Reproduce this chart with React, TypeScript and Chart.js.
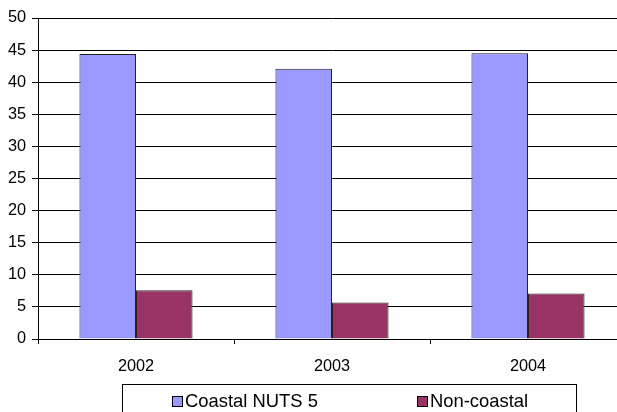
import React, { useEffect, useRef } from "react";
import { Chart, registerables } from "chart.js";

Chart.register(...registerables);

const categories = ["2002", "2003", "2004"];
const coastalValues = [44.4, 42.1, 44.5];
const nonCoastalValues = [7.6, 5.7, 7.1];
const seriesNames = ["Coastal NUTS 5", "Non-coastal"];
const seriesColors = ["#9999FF", "#993366"];
const yMin = 0;
const yMax = 50;
const yStep = 5;

const FONT = 'Arial, "Liberation Sans", sans-serif';

export default function App() {
  const ref = useRef<HTMLCanvasElement | null>(null);

  useEffect(() => {
    if (!ref.current) return;
    const chart = new Chart(ref.current, {
      type: "bar",
      data: {
        labels: categories,
        datasets: [
          {
            label: seriesNames[0],
            data: coastalValues,
            backgroundColor: seriesColors[0],
            borderColor: "#222",
            borderWidth: 1,
            categoryPercentage: 0.577,
            barPercentage: 1,
          },
          {
            label: seriesNames[1],
            data: nonCoastalValues,
            backgroundColor: seriesColors[1],
            borderColor: "#222",
            borderWidth: 1,
            categoryPercentage: 0.577,
            barPercentage: 1,
          },
        ],
      },
      options: {
        responsive: false,
        animation: false,
        devicePixelRatio: 1,
        layout: { padding: { top: 18, left: 0, right: 14, bottom: 33 } },
        plugins: {
          legend: { display: false },
          tooltip: { enabled: false },
        },
        scales: {
          x: {
            offset: true,
            grid: {
              display: true,
              drawOnChartArea: false,
              drawTicks: true,
              tickLength: 5,
              color: "#000",
              offset: true,
            },
            border: { display: true, color: "#000", width: 1 },
            ticks: {
              color: "#000",
              font: { family: FONT, size: 16.3 },
              padding: 13,
              maxRotation: 0,
            },
            afterFit: (scale: any) => {
              scale.height = 40;
            },
          },
          y: {
            min: yMin,
            max: yMax,
            grid: {
              color: "#000",
              lineWidth: 1,
              drawTicks: true,
              tickLength: 6,
            },
            border: { display: true, color: "#000", width: 1 },
            ticks: {
              stepSize: yStep,
              color: "#000",
              font: { family: FONT, size: 16.3 },
              padding: 6,
            },
            afterFit: (scale: any) => {
              scale.width = 38;
            },
          },
        },
      },
    });
    return () => chart.destroy();
  }, []);

  const legendLefts = [49, 294];

  return (
    <div
      style={{
        position: "absolute",
        left: 0,
        top: 0,
        width: 617,
        height: 412,
        overflow: "hidden",
        background: "#fff",
      }}
    >
      <canvas
        ref={ref}
        width={640}
        height={412}
        style={{ position: "absolute", left: 0, top: 0, width: 640, height: 412 }}
      />
      <div
        style={{
          position: "absolute",
          left: 122,
          top: 384,
          width: 455,
          height: 60,
          border: "1px solid #000",
          boxSizing: "border-box",
          fontFamily: FONT,
          fontSize: 18.4,
          color: "#000",
        }}
      >
        {seriesNames.map((name, i) => (
          <div
            key={name}
            style={{
              position: "absolute",
              left: legendLefts[i],
              top: 6,
              height: 20,
              lineHeight: "20px",
              display: "flex",
              alignItems: "center",
              whiteSpace: "nowrap",
            }}
          >
            <span
              style={{
                display: "inline-block",
                width: 11,
                height: 11,
                boxSizing: "border-box",
                border: "1px solid #000",
                background: seriesColors[i],
                marginRight: 2,
              }}
            />
            <span>{name}</span>
          </div>
        ))}
      </div>
    </div>
  );
}
